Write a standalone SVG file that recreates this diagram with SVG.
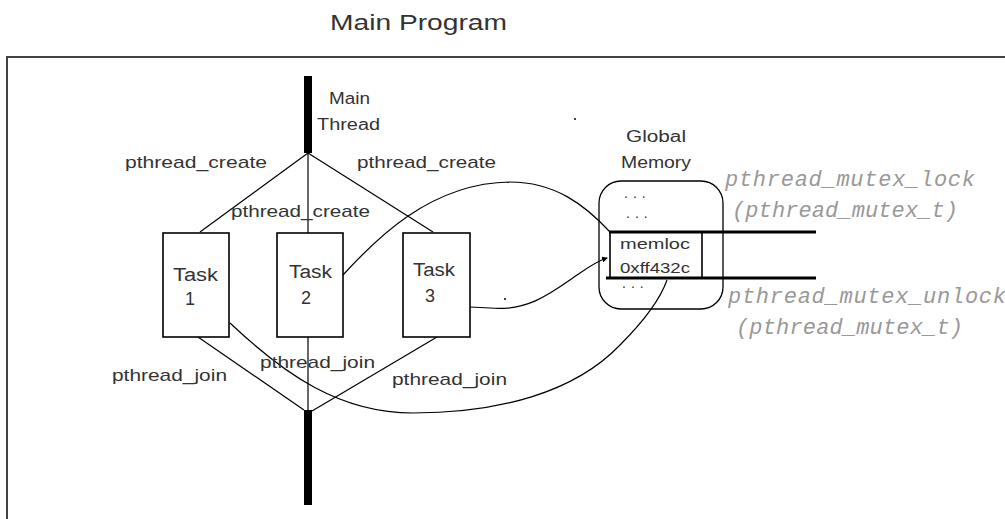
<svg xmlns="http://www.w3.org/2000/svg" width="1005" height="519" viewBox="0 0 1005 519">
  <style>
    .lbl { font-family: "Liberation Sans", Arial, sans-serif; fill: #333; }
    .mono { font-family: "Liberation Mono", "Courier New", monospace; font-style: italic; fill: #999; }
    .ln { fill: none; stroke: #000; stroke-width: 1.2; }
    .bar { fill: #000; }
    .box { fill: #fff; stroke: #000; stroke-width: 1.6; }
    .thick { stroke: #000; stroke-width: 3; }
  </style>
  <defs>
    <marker id="tip" viewBox="0 0 6 6" refX="5" refY="3" markerWidth="5" markerHeight="5" orient="auto">
      <path d="M0,0 L6,3 L0,6 z" fill="#000"/>
    </marker>
  </defs>
  <rect width="1005" height="519" fill="#fff"/>

  <!-- title and outer frame -->
  <text class="lbl" x="330" y="30" font-size="22" textLength="177" lengthAdjust="spacingAndGlyphs">Main Program</text>
  <path d="M7,519 V57 H1005" fill="none" stroke="#444" stroke-width="2"/>

  <!-- connectors -->
  <g id="connectors">
    <!-- create fan-out -->
    <path class="ln" d="M308,153 L200,232"/>
    <path class="ln" d="M308,153 L308,233"/>
    <path class="ln" d="M308,153 L433,232"/>
    <!-- join fan-in -->
    <path class="ln" d="M198,337 L304,410"/>
    <path class="ln" d="M308,337 L308,410"/>
    <path class="ln" d="M437,337 L312,411"/>
    <!-- memory access curves -->
    <path class="ln" d="M343,275 C375,240 430,183 510,182 C555,182 585,205 610,232"/>
    <path class="ln" d="M470,307 L490,308 C530,312 555,290 580,273 C590,266 598,261 607,258" marker-end="url(#tip)"/>
    <path class="ln" d="M230,323 C285,375 340,413 413,413 C500,413 575,392 620,345 C645,320 660,300 667,280"/>
  </g>

  <!-- main thread -->
  <g id="main-thread">
    <rect class="bar" x="304" y="76" width="8" height="77"/>
    <rect class="bar" x="304" y="410" width="8" height="95"/>
    <text class="lbl" x="329" y="104" font-size="16" textLength="41" lengthAdjust="spacingAndGlyphs">Main</text>
    <text class="lbl" x="317" y="130" font-size="16" textLength="63" lengthAdjust="spacingAndGlyphs">Thread</text>
  </g>

  <!-- call labels -->
  <g id="labels">
    <text class="lbl" x="125" y="168" font-size="17" textLength="142" lengthAdjust="spacingAndGlyphs">pthread_create</text>
    <text class="lbl" x="357" y="168" font-size="17" textLength="139" lengthAdjust="spacingAndGlyphs">pthread_create</text>
    <text class="lbl" x="231" y="217" font-size="17" textLength="139" lengthAdjust="spacingAndGlyphs">pthread_create</text>
    <text class="lbl" x="112" y="381" font-size="17" textLength="115" lengthAdjust="spacingAndGlyphs">pthread_join</text>
    <text class="lbl" x="260" y="368" font-size="17" textLength="115" lengthAdjust="spacingAndGlyphs">pthread_join</text>
    <text class="lbl" x="392" y="385" font-size="17" textLength="115" lengthAdjust="spacingAndGlyphs">pthread_join</text>
  </g>

  <!-- tasks -->
  <g id="task1">
    <rect class="box" x="163" y="233" width="66" height="104"/>
    <text class="lbl" x="173" y="281" font-size="18" textLength="45" lengthAdjust="spacingAndGlyphs">Task</text>
    <text class="lbl" x="190" y="305" font-size="18" text-anchor="middle">1</text>
  </g>
  <g id="task2">
    <rect class="box" x="277" y="233" width="66" height="104"/>
    <text class="lbl" x="289" y="278" font-size="18" textLength="43" lengthAdjust="spacingAndGlyphs">Task</text>
    <text class="lbl" x="306" y="304" font-size="18" text-anchor="middle">2</text>
  </g>
  <g id="task3">
    <rect class="box" x="403" y="233" width="67" height="104"/>
    <text class="lbl" x="413" y="276" font-size="18" textLength="42" lengthAdjust="spacingAndGlyphs">Task</text>
    <text class="lbl" x="430" y="302" font-size="18" text-anchor="middle">3</text>
  </g>

  <!-- global memory -->
  <g id="global-memory">
    <text class="lbl" x="626" y="142" font-size="16" textLength="60" lengthAdjust="spacingAndGlyphs">Global</text>
    <text class="lbl" x="621" y="168" font-size="16" textLength="70" lengthAdjust="spacingAndGlyphs">Memory</text>
    <rect x="599" y="181" width="124" height="128" rx="22" ry="22" fill="none" stroke="#000" stroke-width="1.3"/>
    <text class="lbl" x="624" y="198" font-size="14" letter-spacing="5">...</text>
    <text class="lbl" x="626" y="218" font-size="14" letter-spacing="5">...</text>
    <text class="lbl" x="622" y="288" font-size="14" letter-spacing="5">...</text>
  </g>

  <!-- mutex-guarded memory location -->
  <g id="memloc">
    <path d="M610,232 V278 M702,232 V278" fill="none" stroke="#000" stroke-width="1.6"/>
    <path class="thick" d="M609,232 H816 M606,278 H816"/>
    <text class="lbl" x="620" y="249" font-size="15" textLength="70" lengthAdjust="spacingAndGlyphs">memloc</text>
    <text class="lbl" x="620" y="273" font-size="15" textLength="70" lengthAdjust="spacingAndGlyphs">0xff432c</text>
  </g>

  <!-- mutex calls -->
  <g id="mutex-calls">
    <text class="mono" x="725" y="186" font-size="22" textLength="250" lengthAdjust="spacing">pthread_mutex_lock</text>
    <text class="mono" x="732" y="217" font-size="22" textLength="226" lengthAdjust="spacing">(pthread_mutex_t)</text>
    <text class="mono" x="728" y="303" font-size="22" textLength="278" lengthAdjust="spacing">pthread_mutex_unlock</text>
    <text class="mono" x="736" y="334" font-size="22" textLength="227" lengthAdjust="spacing">(pthread_mutex_t)</text>
  </g>

  <!-- stray specks -->
  <circle cx="575" cy="119" r="1" fill="#000"/>
  <circle cx="505" cy="299" r="1" fill="#000"/>
</svg>
